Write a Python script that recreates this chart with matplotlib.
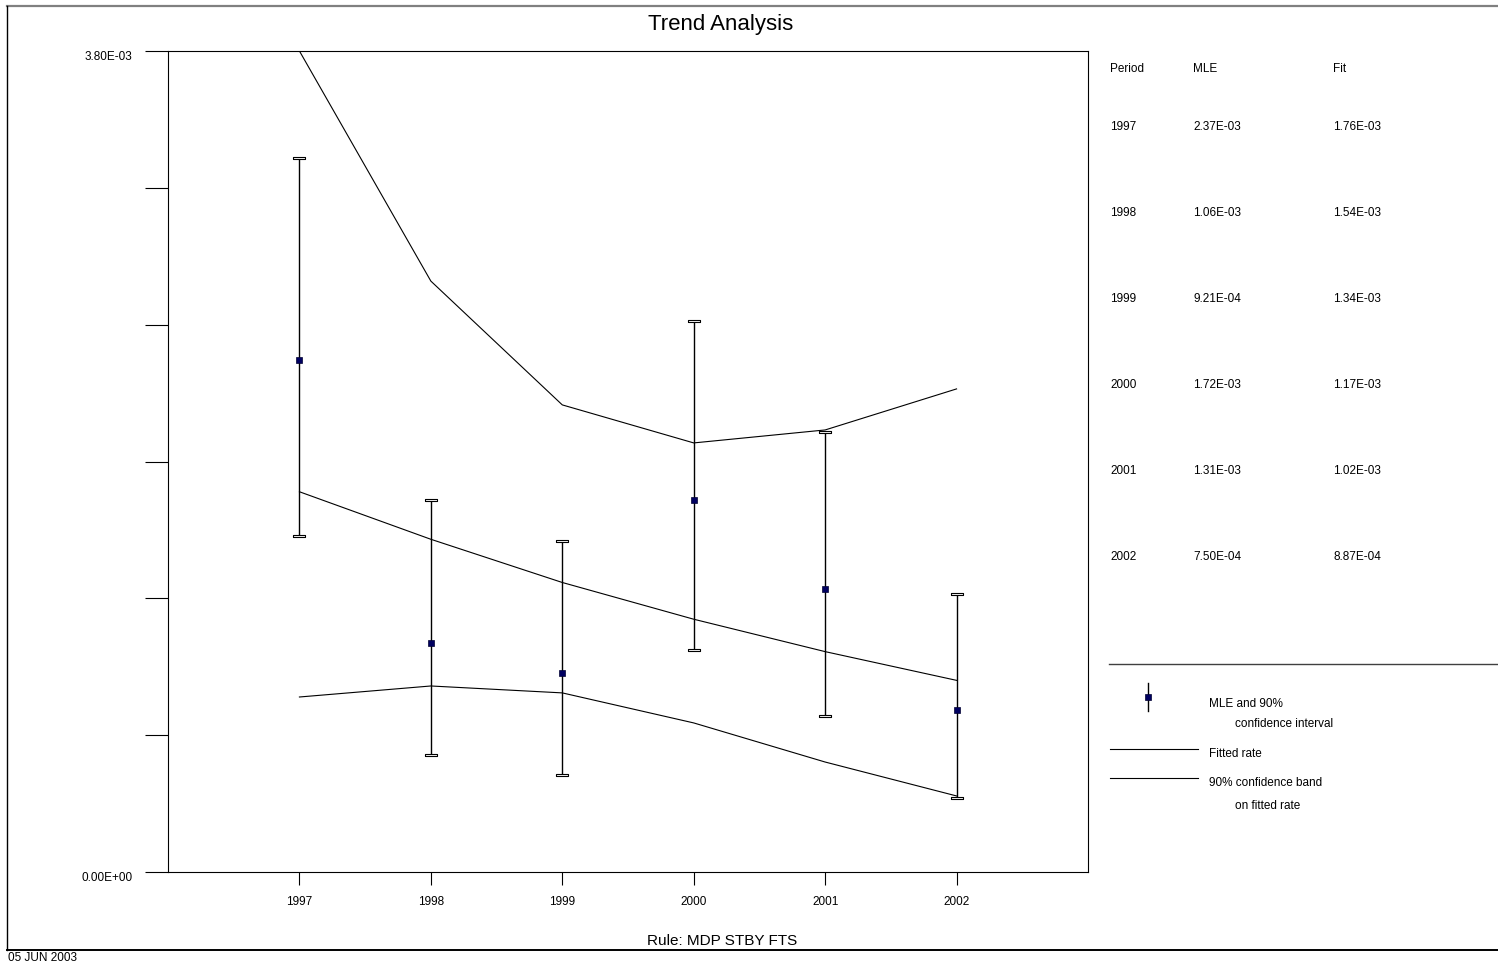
import numpy as np
import matplotlib
matplotlib.use("Agg")
import matplotlib.pyplot as plt

plt.rcParams["font.family"] = ["Liberation Sans", "DejaVu Sans"]

# data
years = [1997, 1998, 1999, 2000, 2001, 2002]
mle = [2.37e-3, 1.06e-3, 9.21e-4, 1.72e-3, 1.31e-3, 7.50e-4]
fit = [1.76e-3, 1.54e-3, 1.34e-3, 1.17e-3, 1.02e-3, 8.87e-4]
ci_low = [1.555e-3, 0.542e-3, 0.449e-3, 1.028e-3, 0.722e-3, 0.343e-3]
ci_high = [3.305e-3, 1.722e-3, 1.532e-3, 2.550e-3, 2.037e-3, 1.287e-3]
band_low = [0.810e-3, 0.861e-3, 0.829e-3, 0.690e-3, 0.509e-3, 0.352e-3]
band_high = [3.80e-3, 2.735e-3, 2.162e-3, 1.986e-3, 2.046e-3, 2.236e-3]
ymax = 3.8e-3

W, H = 1498, 964
fs_small = 8.5
fig = plt.figure(figsize=(W / 100, H / 100), dpi=100)

# background axes in pixel coordinates for the frame, table and legend
bg = fig.add_axes([0, 0, 1, 1], zorder=0)
bg.set_xlim(0, W)
bg.set_ylim(H, 0)
bg.axis("off")

# main plot
ax = fig.add_axes([168 / W, (H - 872) / H, 920 / W, 821 / H], zorder=1)
ax.set_xlim(1996, 2003)
ax.set_ylim(0, ymax)

ax.plot(years, fit, color="black", lw=0.8)
ax.plot(years, band_low, color="black", lw=0.8)
ax.plot(years, band_high, color="black", lw=0.8)

ax.vlines(years, ci_low, ci_high, color="black", lw=1.0)
cap = [(-1, -0.18), (1, -0.18), (1, 0.18), (-1, 0.18), (-1, -0.18)]
ax.plot(years, ci_high, ls="none", marker=cap, ms=8.8, mfc="white", mec="black", mew=0.8)
ax.plot(years, ci_low, ls="none", marker=cap, ms=8.8, mfc="white", mec="black", mew=0.8)
ax.plot(years, mle, ls="none", marker="s", ms=4.6, mfc="#000060", mec="#000030", mew=0.5, zorder=5)

ax.set_xticks(years)
ax.set_xticklabels([str(y) for y in years], fontsize=fs_small)
ax.set_yticks(np.linspace(0, ymax, 7))
ax.set_yticklabels(["0.00E+00", "", "", "", "", "", "3.80E-03"], fontsize=fs_small)
ax.tick_params(axis="y", length=16.6, width=0.8, pad=9)
ax.tick_params(axis="x", length=9.4, width=0.8, pad=8)
for lbl in ax.get_yticklabels():
    lbl.set_va("top")
for s in ax.spines.values():
    s.set_linewidth(0.8)

# outer frame
bg.plot([7, W], [6, 6], color="#808080", lw=1.6)
bg.plot([7, 7], [6, 950], color="black", lw=1.0)
bg.plot([7, W], [950, 950], color="black", lw=1.4)

bg.text(721, 30, "Trend Analysis", fontsize=16, ha="center", va="baseline")
bg.text(722, 945, "Rule: MDP STBY FTS", fontsize=11, ha="center", va="baseline")
bg.text(8, 961, "05 JUN 2003", fontsize=fs_small, ha="left", va="baseline")

# table on the right
bg.text(1110, 72, "Period", fontsize=fs_small, va="baseline")
bg.text(1193, 72, "MLE", fontsize=fs_small, va="baseline")
bg.text(1333, 72, "Fit", fontsize=fs_small, va="baseline")
for i in range(len(years)):
    yb = 130 + 86 * i
    bg.text(1110, yb, str(years[i]), fontsize=fs_small, va="baseline")
    bg.text(1193, yb, "%.2E" % mle[i], fontsize=fs_small, va="baseline")
    bg.text(1333, yb, "%.2E" % fit[i], fontsize=fs_small, va="baseline")

# legend
bg.plot([1109, W], [664, 664], color="#404040", lw=1.0)
bg.plot([1148, 1148], [683, 711], color="black", lw=1.0)
bg.plot([1148], [697], marker="s", ms=4.6, mfc="#000060", mec="#000030", mew=0.5)
bg.text(1209, 707, "MLE and 90%", fontsize=fs_small, va="baseline")
bg.text(1235, 727, "confidence interval", fontsize=fs_small, va="baseline")
bg.plot([1110, 1198], [749, 749], color="black", lw=0.8)
bg.text(1209, 757, "Fitted rate", fontsize=fs_small, va="baseline")
bg.plot([1110, 1198], [778, 778], color="black", lw=0.8)
bg.text(1209, 786, "90% confidence band", fontsize=fs_small, va="baseline")
bg.text(1235, 809, "on fitted rate", fontsize=fs_small, va="baseline")

fig.savefig("out.png", dpi=100)
